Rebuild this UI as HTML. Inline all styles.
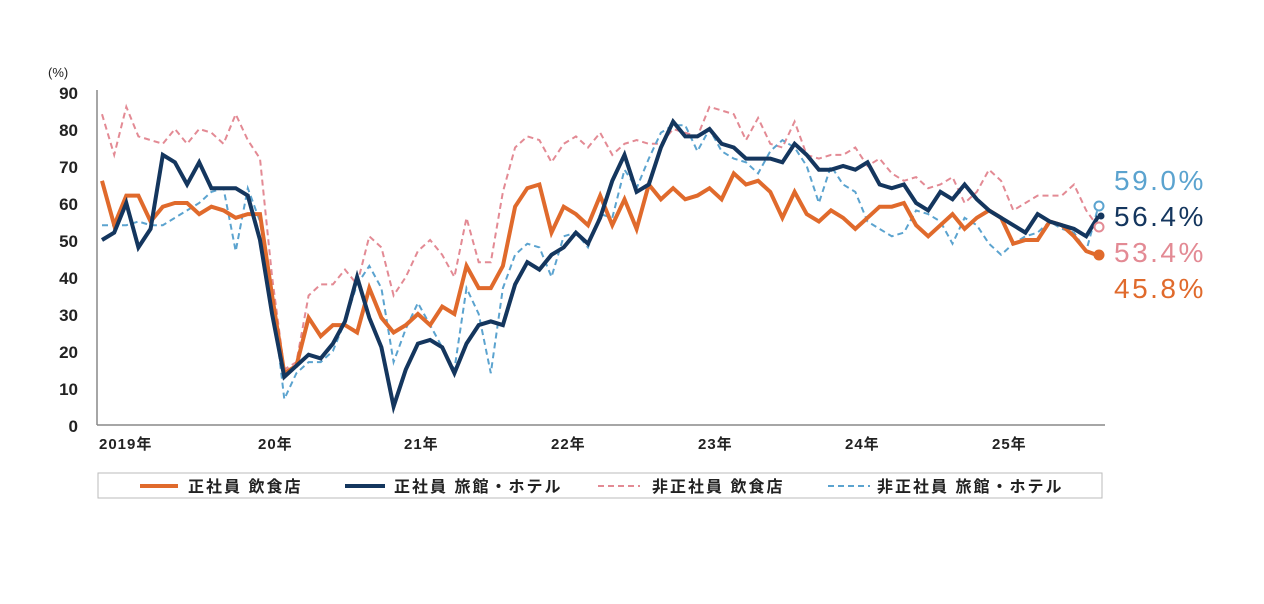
<!DOCTYPE html>
<html><head><meta charset="utf-8"><style>
body{margin:0;background:#fff;}
svg{display:block;font-family:"Liberation Sans","Noto Sans CJK JP",sans-serif;}
</style></head><body>
<svg id="c" width="1264" height="604" viewBox="0 0 1264 604">
<text x="48" y="77" font-size="13" fill="#222">(%)</text>
<g font-size="17" font-weight="bold" fill="#222" text-anchor="end">
<text x="78" y="99">90</text><text x="78" y="136">80</text><text x="78" y="173">70</text><text x="78" y="210">60</text><text x="78" y="247">50</text><text x="78" y="284">40</text><text x="78" y="321">30</text><text x="78" y="358">20</text><text x="78" y="395">10</text><text x="78" y="432">0</text>
</g>
<line x1="97" y1="90" x2="97" y2="425" stroke="#888" stroke-width="1.5"/>
<line x1="97" y1="425" x2="1105" y2="425" stroke="#888" stroke-width="1.5"/>
<g font-size="15" font-weight="bold" fill="#222" letter-spacing="1">
<text x="99" y="449">2019年</text><text x="258" y="449">20年</text><text x="404" y="449">21年</text><text x="551" y="449">22年</text><text x="698" y="449">23年</text><text x="845" y="449">24年</text><text x="992" y="449">25年</text>
</g>
<g id="lines"></g>
<circle cx="1099" cy="206" r="4.5" fill="#fff" stroke="#5ba3cf" stroke-width="2"/>
<circle cx="1101" cy="216" r="3.5" fill="#14365e"/>
<circle cx="1099" cy="227" r="4.5" fill="#fff" stroke="#e38a94" stroke-width="2"/>
<circle cx="1099" cy="255" r="5.5" fill="#e06a2c"/>
<g font-size="28" letter-spacing="2.5">
<text x="1114" y="190" fill="#5ba3cf">59.0%</text>
<text x="1114" y="226" fill="#14365e">56.4%</text>
<text x="1114" y="262" fill="#e38a94">53.4%</text>
<text x="1114" y="298" fill="#e06a2c">45.8%</text>
</g>
<rect x="98" y="473" width="1004" height="25" fill="#fff" stroke="#bbb" stroke-width="1"/>
<line x1="140" y1="486" x2="178" y2="486" stroke="#e06a2c" stroke-width="4"/>
<line x1="345" y1="486" x2="385" y2="486" stroke="#14365e" stroke-width="4"/>
<line x1="598" y1="486" x2="640" y2="486" stroke="#e38a94" stroke-width="2" stroke-dasharray="6,4"/>
<line x1="828" y1="486" x2="870" y2="486" stroke="#5ba3cf" stroke-width="2" stroke-dasharray="6,4"/>
<g font-size="16" font-weight="bold" fill="#222" letter-spacing="2">
<text x="188" y="492">正社員 飲食店</text>
<text x="394" y="492">正社員 旅館・ホテル</text>
<text x="652" y="492">非正社員 飲食店</text>
<text x="877" y="492">非正社員 旅館・ホテル</text>
</g>
</svg>
<script>
var pink=[84,73,86,78,77,76,80,76,80,79,76,84, 77,72,40,15,17,35,38,38,42,38,51,48, 35,40,47,50,46,40,56,44,44,63,75,78, 77,71,76,78,75,79,73,76,77,76,76,80, 79,78,86,85,84,77,83,76,75,82,73,72, 73,73,75,70,72,68,66,67,64,65,67,60, 63,69,66,58,60,62,62,62,65,58,53.4];
var blue=[54,54,54,55,54,54,56,58,60,63,64,47, 64,55,35,7,14,17,17,20,28,38,43,37, 17,26,33,27,21,15,37,30,14,37,46,49, 48,40,51,52,48,57,56,69,64,72,79,81, 81,74,80,74,72,71,68,74,77,75,70,60, 70,65,63,55,53,51,52,58,57,55,49,56, 54,49,46,49,51,52,55,53,52,47,59];
var orange=[66,54,62,62,55,59,60,60,57,59,58,56, 57,57,35,14,16,29,24,27,27,25,37,29, 25,27,30,27,32,30,43,37,37,43,59,64, 65,52,59,57,54,62,54,61,53,65,61,64, 61,62,64,61,68,65,66,63,56,63,57,55, 58,56,53,56,59,59,60,54,51,54,57,53, 56,58,56,49,50,50,55,54,51,47,45.8];
var navy=[50,52,60,48,53,73,71,65,71,64,64,64, 62,50,30,13,16,19,18,22,28,40,29,21, 5,15,22,23,21,14,22,27,28,27,38,44, 42,46,48,52,49,56,66,73,63,65,75,82, 78,78,80,76,75,72,72,72,71,76,73,69, 69,70,69,71,65,64,65,60,58,63,61,65, 61,58,56,54,52,57,55,54,53,51,56.4];
function pts(a){return a.map(function(v,i){return (102+i*12.15).toFixed(1)+","+(425-v*3.7).toFixed(1)}).join(" ");}
var g=document.getElementById("lines");
var defs=[[pink,"#e38a94",2,"6,4"],[blue,"#5ba3cf",2,"6,4"],[orange,"#e06a2c",4,""],[navy,"#14365e",4,""]];
var h="";
defs.forEach(function(d){h+='<polyline fill="none" stroke-linejoin="miter" points="'+pts(d[0])+'" stroke="'+d[1]+'" stroke-width="'+d[2]+'"'+(d[3]?' stroke-dasharray="'+d[3]+'"':'')+'/>';});
g.innerHTML=h;
</script>
</body></html>
